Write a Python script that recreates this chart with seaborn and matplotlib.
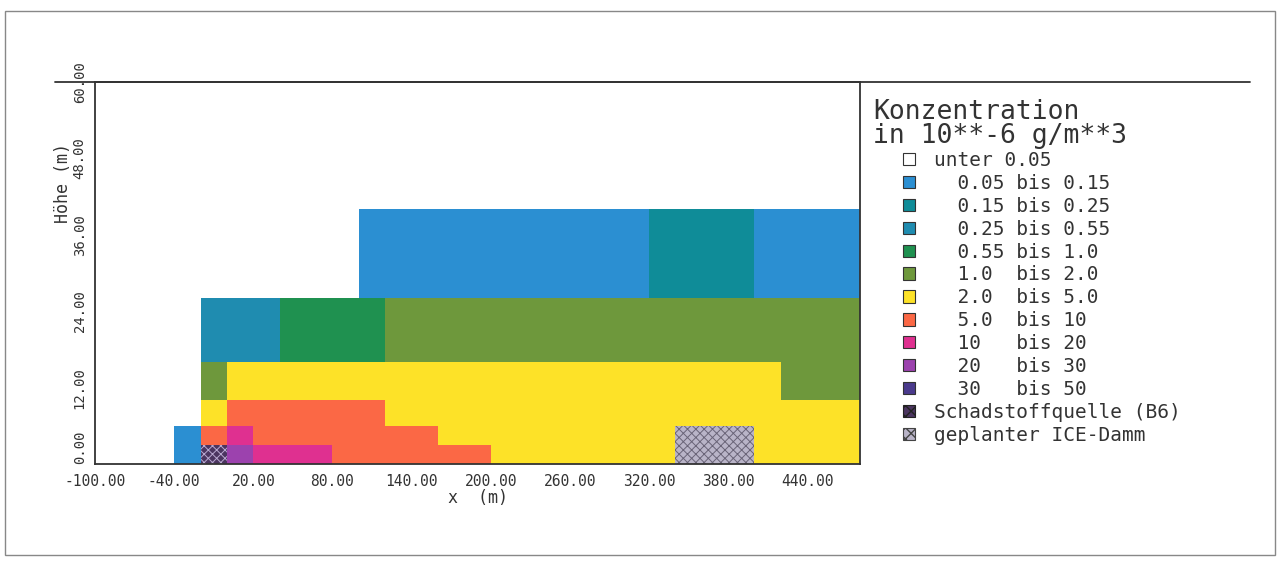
import numpy as np
import seaborn as sns
import matplotlib.pyplot as plt
from matplotlib.colors import ListedColormap
from matplotlib.patches import Patch, Rectangle
from matplotlib.collections import PatchCollection
from matplotlib.lines import Line2D

sns.set_style("white")
plt.rcParams['font.family'] = ['DejaVu Sans Mono', 'DejaVu Sans']

# Konzentrationsklassen (Legende) und Farben
klassen = ["unter 0.05",
           "  0.05 bis 0.15", "  0.15 bis 0.25", "  0.25 bis 0.55", "  0.55 bis 1.0",
           "  1.0  bis 2.0", "  2.0  bis 5.0", "  5.0  bis 10", "  10   bis 20",
           "  20   bis 30", "  30   bis 50",
           "Schadstoffquelle (B6)", "geplanter ICE-Damm"]
farben = ["#ffffff", "#2b8fd2", "#0f8c98", "#1f8cb0", "#1f9150", "#6e983c",
          "#fde228", "#fb6845", "#df3090", "#9c42ae", "#4a3a8c",
          "#4b3560", "#b9b4c8"]

# Rechengitter: Spalten je 20 m ab x = -40, Schichtgrenzen in m
x_min, x_max = -100, 480
x_start = -40
dx = 20
z_grenzen = [0, 3, 6, 10, 16, 26, 40]
z_max = 60

# Klasse je Zelle, eine Liste pro Schicht (von unten), Spalten -40 ... 460
schicht_1 = [1, 11, 9, 8, 8, 8, 7, 7, 7, 7, 7, 7, 6, 6, 6, 6, 6, 6, 6, 12, 12, 12, 6, 6, 6, 6]
schicht_2 = [1, 7, 8, 7, 7, 7, 7, 7, 7, 7, 6, 6, 6, 6, 6, 6, 6, 6, 6, 12, 12, 12, 6, 6, 6, 6]
schicht_3 = [0, 6, 7, 7, 7, 7, 7, 7, 6, 6, 6, 6, 6, 6, 6, 6, 6, 6, 6, 6, 6, 6, 6, 6, 6, 6]
schicht_4 = [0, 5, 6, 6, 6, 6, 6, 6, 6, 6, 6, 6, 6, 6, 6, 6, 6, 6, 6, 6, 6, 6, 6, 5, 5, 5]
schicht_5 = [0, 3, 3, 3, 4, 4, 4, 4, 5, 5, 5, 5, 5, 5, 5, 5, 5, 5, 5, 5, 5, 5, 5, 5, 5, 5]
schicht_6 = [0, 0, 0, 0, 0, 0, 0, 1, 1, 1, 1, 1, 1, 1, 1, 1, 1, 1, 2, 2, 2, 2, 1, 1, 1, 1]
schichten = [schicht_1, schicht_2, schicht_3, schicht_4, schicht_5, schicht_6]

# auf 1-m-Raster fuer die Heatmap bringen
n_cols = (x_max - x_min) // dx
pad = (x_start - x_min) // dx
rows = []
for k, s in enumerate(schichten):
    rows += [[0] * pad + s] * (z_grenzen[k + 1] - z_grenzen[k])
rows += [[0] * n_cols] * (z_max - z_grenzen[-1])
grid = np.array(rows)

def xpos(v):
    return (np.asarray(v, dtype=float) - x_min) / dx

textfarbe = "#333333"

fig = plt.figure(figsize=(12.8, 5.69), dpi=100)
ax = fig.add_axes([95 / 1280, 1 - 464 / 569, (860 - 95) / 1280, (464 - 82) / 569])

sns.heatmap(grid, cmap=ListedColormap(farben), vmin=-0.5, vmax=len(farben) - 0.5,
            cbar=False, xticklabels=False, yticklabels=False, ax=ax)
ax.invert_yaxis()

# Schraffur fuer Quelle und Damm (nur die Zellen dieser Klassen)
for code, hcol in [(11, "#b8a8d0"), (12, "#6a6478")]:
    rr, cc = np.nonzero(grid == code)
    zellen = [Rectangle((c, r), 1, 1) for r, c in zip(rr, cc)]
    with plt.rc_context({'hatch.color': hcol, 'hatch.linewidth': 0.7}):
        coll = PatchCollection(zellen, facecolor="none", edgecolor=hcol,
                               linewidth=0, hatch="xxxx")
    ax.add_collection(coll)

ax.set_xlim(0, n_cols)
ax.set_ylim(0, z_max)

x_ticks = [-100, -40, 20, 80, 140, 200, 260, 320, 380, 440]
y_ticks = [0, 12, 24, 36, 48, 60]
ax.set_xticks(xpos(x_ticks))
ax.set_xticklabels([f"{v:.2f}" for v in x_ticks], fontsize=10.5, color=textfarbe)
ax.set_xticks(xpos(np.arange(x_min, x_max + 1, 30)), minor=True)
ax.set_yticks(y_ticks)
ax.set_yticklabels([f"{v:.2f}" for v in y_ticks], fontsize=10, color=textfarbe,
                   rotation=90, va="center")
ax.get_yticklabels()[0].set_va("bottom")
ax.set_yticks(np.arange(0, z_max + 1, 6), minor=True)
ax.tick_params(which="both", direction="out", length=6, width=1.1, color=textfarbe)
ax.tick_params(axis="x", pad=1)
ax.tick_params(axis="y", pad=0)

for s in ax.spines.values():
    s.set_visible(True)
    s.set_color(textfarbe)
    s.set_linewidth(1.3)

ax.set_xlabel("x  (m)", fontsize=12, color=textfarbe, labelpad=0)
ax.set_ylabel("Höhe (m)", fontsize=12, color=textfarbe)
ax.yaxis.set_label_coords(-0.03, 0.735)

# durchgehende obere Linie und Seitenrahmen
fig.add_artist(Line2D([55 / 1280, 1250 / 1280], [1 - 82 / 569] * 2,
                      transform=fig.transFigure, color=textfarbe, lw=1.3))
fig.add_artist(Rectangle((0.004, 0.025), 0.992, 0.955, transform=fig.transFigure,
                         fill=False, edgecolor="#888888", lw=1))

# Legende
fig.text(873 / 1280, 1 - 99 / 569, "Konzentration\nin 10**-6 g/m**3", va="top",
         fontsize=19, color=textfarbe, linespacing=0.92)
handles = [Patch(facecolor=c, edgecolor=textfarbe, lw=0.8) for c in farben[:11]]
handles += [Patch(facecolor=farben[11], edgecolor="#222222", lw=0.8, hatch="xxx"),
            Patch(facecolor=farben[12], edgecolor="#444444", lw=0.8, hatch="xxx")]
leg = fig.legend(handles, klassen, loc="upper left",
                 bbox_to_anchor=(903 / 1280, 1 - 151 / 569), frameon=False,
                 prop={'size': 14}, handlelength=0.6, handleheight=0.6,
                 handletextpad=1.0, labelspacing=0.2, borderaxespad=0, borderpad=0)
for t in leg.get_texts():
    t.set_color(textfarbe)

fig.savefig("out.png", dpi=100, facecolor="white")
